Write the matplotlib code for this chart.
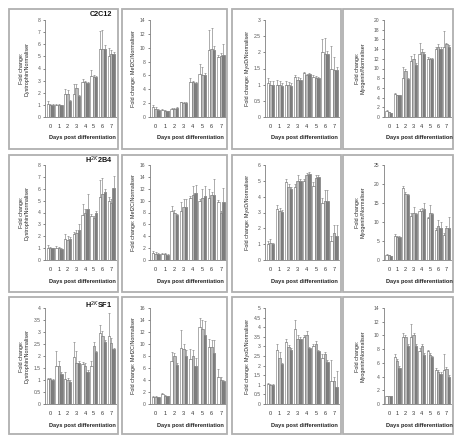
import matplotlib
matplotlib.use("Agg")
import matplotlib.pyplot as plt
import matplotlib.patches as mpatches
import numpy as np

plt.rcParams['font.family'] = ['Liberation Sans', 'DejaVu Sans']

days = [0, 1, 2, 3, 4, 5, 6, 7]
day_labels = ["0", "1", "2", "3", "4", "5", "6", "7"]
row_titles = ["C2C12", "H$^{2K}$2B4", "H$^{2K}$SF1"]
col_ylabels = ["Fold change:\nDystrophin/Normaliser", "Fold change: Mef2C/Normaliser",
               "Fold change: MyoD/Normaliser", "Fold change:\nMyogenin/Normaliser"]
xlabel = "Days post differentiation"

# y-axis (max, step) per panel
yaxis = [[(8, 1), (14, 2), (3, 0.5), (20, 2)],
         [(8, 1), (16, 2), (6, 1), (25, 5)],
         [(4, 0.5), (16, 2), (5, 0.5), (14, 2)]]

# ---- data: three series (white, light grey, dark grey) per panel ----
# Row 1: C2C12
r1c1_a = [1.1, 1.0, 1.9, 1.9, 2.9, 3.4, 5.6, 5.0]
r1c1_b = [1.0, 1.0, 1.9, 2.4, 2.9, 3.3, 5.6, 5.2]
r1c1_c = [1.0, 0.95, 1.3, 1.75, 2.8, 3.3, 5.6, 5.2]
r1c1_ea = [0.2, 0.05, 0.4, 0.8, 0.2, 0.5, 1.5, 0.7]
r1c1_eb = [0.1, 0.05, 0.3, 0.3, 0.1, 0.2, 1.6, 0.3]
r1c1_ec = [0.05, 0.05, 0.1, 0.1, 0.1, 0.1, 0.3, 0.2]

r1c2_a = [1.5, 1.0, 1.2, 2.1, 5.1, 6.2, 9.7, 8.7]
r1c2_b = [1.2, 0.9, 1.2, 2.0, 5.0, 6.0, 9.8, 8.8]
r1c2_c = [1.0, 0.8, 1.3, 2.0, 4.9, 6.0, 9.7, 8.9]
r1c2_ea = [0.3, 0.2, 0.1, 0.1, 0.5, 1.5, 2.8, 0.3]
r1c2_eb = [0.2, 0.1, 0.1, 0.1, 0.2, 1.2, 3.0, 0.5]
r1c2_ec = [0.1, 0.1, 0.1, 0.1, 0.1, 0.3, 0.5, 1.6]

r1c3_a = [1.05, 1.0, 0.98, 1.25, 1.35, 1.25, 2.0, 1.5]
r1c3_b = [1.0, 1.0, 0.98, 1.15, 1.3, 1.2, 1.95, 1.45]
r1c3_c = [1.0, 0.95, 0.95, 1.15, 1.32, 1.2, 1.95, 1.45]
r1c3_ea = [0.15, 0.15, 0.12, 0.05, 0.03, 0.05, 0.4, 0.7]
r1c3_eb = [0.12, 0.1, 0.1, 0.1, 0.03, 0.08, 0.5, 0.4]
r1c3_ec = [0.1, 0.1, 0.1, 0.05, 0.03, 0.05, 0.1, 0.1]

r1c4_a = [1.2, 4.8, 8.0, 11.5, 13.0, 12.0, 14.0, 14.5]
r1c4_b = [1.0, 4.5, 9.5, 12.0, 13.5, 12.0, 14.5, 15.0]
r1c4_c = [0.8, 4.5, 7.8, 10.8, 13.0, 12.0, 14.0, 14.5]
r1c4_ea = [0.3, 0.2, 2.3, 1.0, 2.3, 0.3, 0.4, 3.3]
r1c4_eb = [0.1, 0.1, 0.5, 1.0, 0.5, 0.2, 0.6, 0.3]
r1c4_ec = [0.1, 0.1, 0.3, 0.3, 0.3, 0.2, 0.4, 0.3]

# Row 2: H2K 2B4
r2c1_a = [1.0, 1.0, 1.8, 2.2, 3.8, 3.7, 5.3, 5.0]
r2c1_b = [1.0, 1.0, 1.7, 2.3, 4.0, 3.5, 5.6, 4.8]
r2c1_c = [1.0, 0.95, 1.8, 2.5, 4.3, 4.0, 5.7, 6.1]
r2c1_ea = [0.3, 0.2, 0.4, 0.2, 0.9, 0.2, 1.4, 0.3]
r2c1_eb = [0.1, 0.1, 0.3, 0.2, 0.3, 0.2, 1.3, 0.3]
r2c1_ec = [0.05, 0.05, 0.1, 0.5, 1.3, 0.1, 0.3, 1.0]

r2c2_a = [1.2, 1.0, 8.3, 8.3, 10.5, 10.0, 10.5, 9.8]
r2c2_b = [1.0, 1.0, 8.0, 9.0, 11.0, 10.5, 11.0, 8.0]
r2c2_c = [1.0, 0.9, 7.5, 9.0, 11.3, 10.8, 11.0, 9.8]
r2c2_ea = [0.3, 0.2, 0.8, 1.5, 0.3, 0.3, 1.5, 0.3]
r2c2_eb = [0.3, 0.1, 0.5, 1.3, 1.5, 1.5, 0.5, 0.2]
r2c2_ec = [0.1, 0.05, 0.3, 1.3, 1.4, 1.6, 2.6, 2.3]

r2c3_a = [1.0, 3.2, 4.9, 4.6, 5.0, 4.7, 3.6, 1.2]
r2c3_b = [1.1, 3.1, 4.6, 5.0, 5.4, 5.2, 3.7, 1.7]
r2c3_c = [1.0, 3.05, 4.5, 5.0, 5.45, 5.25, 3.7, 1.5]
r2c3_ea = [0.2, 0.3, 0.2, 0.2, 0.1, 0.2, 0.3, 0.3]
r2c3_eb = [0.2, 0.2, 0.2, 0.4, 0.1, 0.2, 0.7, 0.5]
r2c3_ec = [0.1, 0.1, 0.1, 0.1, 0.1, 0.1, 0.7, 0.7]

r2c4_a = [1.2, 6.3, 19.0, 11.5, 13.0, 11.0, 8.0, 6.5]
r2c4_b = [1.2, 6.0, 17.5, 12.5, 13.0, 12.5, 9.0, 8.5]
r2c4_c = [1.0, 6.0, 17.0, 12.0, 13.5, 12.0, 8.5, 8.3]
r2c4_ea = [0.3, 0.5, 0.5, 1.0, 0.3, 0.3, 0.5, 0.5]
r2c4_eb = [0.2, 0.3, 0.5, 1.5, 0.6, 2.0, 1.5, 0.5]
r2c4_ec = [0.1, 0.2, 0.3, 0.5, 1.5, 0.3, 1.5, 3.0]

# Row 3: H2K SF1
r3c1_a = [1.05, 1.6, 1.05, 1.95, 1.65, 1.6, 2.95, 2.85]
r3c1_b = [1.05, 1.6, 1.0, 1.7, 1.6, 2.4, 2.85, 2.55]
r3c1_c = [1.0, 1.25, 0.9, 1.7, 1.35, 2.15, 2.6, 2.3]
r3c1_ea = [0.05, 0.6, 0.3, 0.65, 0.1, 0.2, 0.35, 0.95]
r3c1_eb = [0.05, 0.2, 0.1, 0.5, 0.1, 0.2, 0.2, 0.2]
r3c1_ec = [0.05, 0.1, 0.1, 0.1, 0.05, 0.05, 0.05, 0.05]

r3c2_a = [1.2, 1.6, 7.2, 9.4, 7.5, 12.8, 9.5, 4.5]
r3c2_b = [1.2, 1.4, 8.0, 9.2, 8.0, 12.5, 9.5, 4.0]
r3c2_c = [1.1, 1.3, 6.5, 8.0, 6.3, 11.5, 8.5, 3.8]
r3c2_ea = [0.1, 0.2, 1.4, 2.9, 1.6, 1.6, 1.3, 1.3]
r3c2_eb = [0.1, 0.1, 0.5, 0.8, 1.0, 1.5, 1.2, 0.5]
r3c2_ec = [0.1, 0.1, 0.3, 1.0, 1.3, 2.4, 2.2, 0.2]

r3c3_a = [1.05, 2.8, 3.25, 3.9, 3.5, 3.0, 2.4, 1.2]
r3c3_b = [1.0, 2.4, 2.95, 3.4, 3.6, 3.1, 2.6, 1.2]
r3c3_c = [1.0, 2.1, 2.8, 3.4, 2.9, 2.75, 2.2, 0.9]
r3c3_ea = [0.05, 0.3, 0.15, 0.45, 0.1, 0.1, 0.2, 1.1]
r3c3_eb = [0.05, 0.3, 0.1, 0.2, 0.2, 0.2, 0.1, 0.2]
r3c3_ec = [0.05, 0.05, 0.1, 0.1, 0.05, 0.05, 0.1, 0.8]

r3c4_a = [1.1, 6.8, 9.7, 9.7, 7.7, 7.8, 5.0, 5.0]
r3c4_b = [1.1, 6.3, 9.8, 10.0, 8.5, 7.2, 4.6, 5.1]
r3c4_c = [1.1, 5.3, 8.5, 8.5, 7.2, 6.8, 4.4, 4.0]
r3c4_ea = [0.05, 0.5, 0.6, 2.0, 0.5, 0.1, 0.2, 2.3]
r3c4_eb = [0.05, 0.3, 0.2, 0.3, 0.2, 0.3, 0.3, 0.3]
r3c4_ec = [0.05, 0.3, 0.3, 0.3, 0.2, 0.2, 0.2, 0.2]

panels = [
    [(r1c1_a, r1c1_b, r1c1_c, r1c1_ea, r1c1_eb, r1c1_ec),
     (r1c2_a, r1c2_b, r1c2_c, r1c2_ea, r1c2_eb, r1c2_ec),
     (r1c3_a, r1c3_b, r1c3_c, r1c3_ea, r1c3_eb, r1c3_ec),
     (r1c4_a, r1c4_b, r1c4_c, r1c4_ea, r1c4_eb, r1c4_ec)],
    [(r2c1_a, r2c1_b, r2c1_c, r2c1_ea, r2c1_eb, r2c1_ec),
     (r2c2_a, r2c2_b, r2c2_c, r2c2_ea, r2c2_eb, r2c2_ec),
     (r2c3_a, r2c3_b, r2c3_c, r2c3_ea, r2c3_eb, r2c3_ec),
     (r2c4_a, r2c4_b, r2c4_c, r2c4_ea, r2c4_eb, r2c4_ec)],
    [(r3c1_a, r3c1_b, r3c1_c, r3c1_ea, r3c1_eb, r3c1_ec),
     (r3c2_a, r3c2_b, r3c2_c, r3c2_ea, r3c2_eb, r3c2_ec),
     (r3c3_a, r3c3_b, r3c3_c, r3c3_ea, r3c3_eb, r3c3_ec),
     (r3c4_a, r3c4_b, r3c4_c, r3c4_ea, r3c4_eb, r3c4_ec)],
]

series_colors = ["#ffffff", "#bababa", "#7e7e7e"]

W, H = 458, 438
fig = plt.figure(figsize=(W / 100, H / 100), dpi=100)
fig.patch.set_facecolor("white")

# layout in pixels
box_x = [(9, 118), (122, 227), (232, 341), (343, 453)]
box_y = [(9, 149), (155, 292), (297, 434)]
ax_x = [(45, 116), (150, 226), (265, 339), (384, 451)]
ax_y = [(20, 117), (165, 260), (308, 404)]
ylab_x = [24, 133, 247, 360]
xlab_y = [137, 281, 425]
title_y = [15, 160, 305]

def fx(px):
    return px / W

def fy(py):
    return 1 - py / H

for r in range(3):
    for c in range(4):
        bx0, bx1 = box_x[c]
        by0, by1 = box_y[r]
        rect = mpatches.Rectangle((fx(bx0), fy(by1)), fx(bx1) - fx(bx0), fy(by0) - fy(by1),
                                  transform=fig.transFigure, fill=False,
                                  edgecolor="#b0b0b0", linewidth=1.3)
        fig.patches.append(rect)

        x0, x1 = ax_x[c]
        y0, y1 = ax_y[r]
        ax = fig.add_axes([fx(x0), fy(y1), fx(x1) - fx(x0), fy(y0) - fy(y1)])
        a, b, cc, ea, eb, ec = panels[r][c]
        x = np.array(days, dtype=float)
        w = 0.28
        for k, (vals, errs) in enumerate([(a, ea), (b, eb), (cc, ec)]):
            xs = x + (k - 1) * w
            ax.bar(xs, vals, width=w, color=series_colors[k], edgecolor="#6e6e6e",
                   linewidth=0.4, zorder=2)
            ax.errorbar(xs, vals, yerr=[np.zeros(len(vals)), errs], fmt="none",
                        ecolor="#8c8c8c", elinewidth=0.5, capsize=0.9, capthick=0.5,
                        zorder=3)
        ymax, step = yaxis[r][c]
        ax.set_ylim(0, ymax)
        ax.set_xlim(-0.6, 7.55)
        ticks = np.arange(0, ymax + step / 2, step)
        ax.set_yticks(ticks)
        ax.set_yticklabels([("%g" % t) for t in ticks], fontsize=3.6, color="#444444")
        ax.set_xticks(days)
        ax.set_xticklabels(day_labels, fontsize=4, color="#333333")
        ax.tick_params(axis="x", length=0, pad=5)
        ax.tick_params(axis="y", length=1.8, width=0.5, pad=1.5, colors="#555555")
        for s in ["top", "right"]:
            ax.spines[s].set_visible(False)
        for s in ["left", "bottom"]:
            ax.spines[s].set_color("#808080")
            ax.spines[s].set_linewidth(0.6)
        ax.set_facecolor("white")

        fig.text(fx((x0 + x1) / 2 + 2), fy(xlab_y[r]), xlabel, fontsize=4.1,
                 fontweight="bold", ha="center", va="center", color="#222222")
        fig.text(fx(ylab_x[c]), fy((y0 + y1) / 2), col_ylabels[c], fontsize=3.9,
                 rotation=90, ha="center", va="center", color="#222222",
                 linespacing=1.1)
        if c == 0:
            fig.text(fx(bx1 - 6), fy(title_y[r]), row_titles[r], fontsize=5.2,
                     fontweight="bold", ha="right", va="center", color="#111111")

fig.savefig("out.png", dpi=100, facecolor="white")
